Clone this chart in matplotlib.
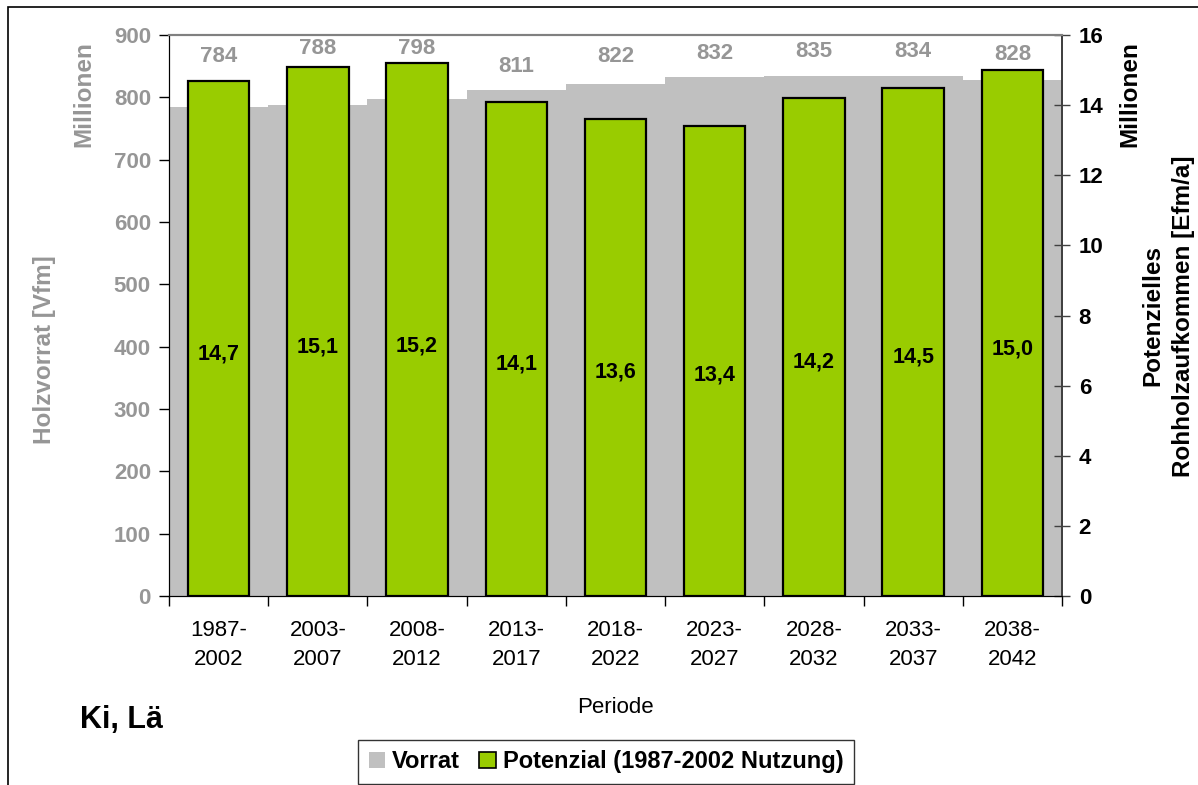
import matplotlib
matplotlib.use("Agg")
import matplotlib.pyplot as plt
import matplotlib.patches as mpatches
import numpy as np

plt.rcParams['font.family'] = ['Liberation Sans', 'DejaVu Sans']

perioden = ["1987-\n2002", "2003-\n2007", "2008-\n2012", "2013-\n2017", "2018-\n2022",
            "2023-\n2027", "2028-\n2032", "2033-\n2037", "2038-\n2042"]
vorrat = [784, 788, 798, 811, 822, 832, 835, 834, 828]          # Mio Vfm
potenzial = [14.7, 15.1, 15.2, 14.1, 13.6, 13.4, 14.2, 14.5, 15.0]  # Mio Efm/a
# heights of the Vorrat value labels as Excel placed them (left axis units)
vorrat_label_y = [865, 878, 878, 850, 865, 871, 874, 874, 868]

GRAY = '#C0C0C0'
LABEL_GRAY = '#969696'
GREEN = '#99CC00'

W, H = 1198, 785
fig = plt.figure(figsize=(W / 100, H / 100), dpi=100)
ax = fig.add_axes([169 / W, 1 - 596 / H, (1062 - 169) / W, (596 - 35) / H])
ax2 = ax.twinx()

x = np.arange(len(perioden))
ax.bar(x, vorrat, width=1.0, color=GRAY, linewidth=0, zorder=1)
ax2.bar(x, potenzial, width=0.62, color=GREEN, edgecolor='black', linewidth=1.6, zorder=2)

for xi, v, ly in zip(x, vorrat, vorrat_label_y):
    ax.text(xi, ly, str(v), ha='center', va='center', color=LABEL_GRAY,
            fontsize=16, fontweight='bold')
for xi, p in zip(x, potenzial):
    ax2.text(xi, p * 0.47, f"{p:.1f}".replace('.', ','), ha='center', va='center',
             color='black', fontsize=15.5, fontweight='bold')

ax.set_xlim(-0.5, len(perioden) - 0.5)
ax.set_ylim(0, 900)
ax2.set_ylim(0, 16)
ax.set_yticks(np.arange(0, 901, 100))
ax2.set_yticks(np.arange(0, 17, 2))

# ticks between categories, labels centered
ax.set_xticks(np.arange(-0.5, len(perioden), 1.0))
ax.set_xticklabels([])
ax.set_xticks(x, minor=True)
ax.set_xticklabels(perioden, minor=True, fontsize=16, linespacing=1.55)
ax.tick_params(axis='x', which='major', length=7, width=1, color='black', direction='out')
ax.tick_params(axis='x', which='minor', length=0, pad=17)

ax.tick_params(axis='y', length=7, width=1, direction='out', labelsize=16,
               labelcolor=LABEL_GRAY, pad=6)
for t in ax.get_yticklabels():
    t.set_fontweight('bold')
ax2.tick_params(axis='y', length=12, width=1, direction='inout', labelsize=16,
                labelcolor='black', pad=6, color='#404040')
for t in ax2.get_yticklabels():
    t.set_fontweight('bold')

for a in (ax, ax2):
    a.spines['top'].set_color('#808080')
    a.spines['top'].set_linewidth(1.5)
    a.spines['left'].set_color('black')
    a.spines['right'].set_color('#404040')
    a.spines['bottom'].set_color('black')
    a.spines['right'].set_linewidth(1.3)

ax.set_xlabel("Periode", fontsize=16, labelpad=19)

# axis titles
fig.text(45 / W, 1 - 350 / H, "Holzvorrat [Vfm]", rotation=90, ha='center', va='center',
         color=LABEL_GRAY, fontsize=17.5, fontweight='bold')
fig.text(84 / W, 1 - 94 / H, "Millionen", rotation=90, ha='center', va='center',
         color=LABEL_GRAY, fontsize=17.5, fontweight='bold')
fig.text(1130 / W, 1 - 94 / H, "Millionen", rotation=90, ha='center', va='center',
         color='black', fontsize=17.5, fontweight='bold')
fig.text(1168 / W, 1 - 316 / H, "Potenzielles\nRohholzaufkommen [Efm/a]", rotation=90,
         ha='center', va='center', multialignment='center', linespacing=1.45,
         color='black', fontsize=17.5, fontweight='bold')

fig.text(80 / W, 1 - 720 / H, "Ki, Lä", ha='left', va='center', fontsize=22, fontweight='bold')

handles = [mpatches.Patch(facecolor=GRAY, edgecolor='none', label='Vorrat'),
           mpatches.Patch(facecolor=GREEN, edgecolor='black', linewidth=1.2,
                          label='Potenzial (1987-2002 Nutzung)')]
leg = fig.legend(handles=handles, loc='lower left', bbox_to_anchor=(358 / W, 1 / H),
                 ncol=2, frameon=True, fancybox=False, edgecolor='black',
                 prop={'size': 17, 'weight': 'bold'}, handlelength=0.7, handleheight=0.7,
                 handletextpad=0.3, columnspacing=0.8, borderpad=0.45, borderaxespad=0)
leg.get_frame().set_linewidth(1.0)

# chart area frame (cut off at right and bottom)
fig.add_artist(mpatches.Rectangle((8 / W, -0.1), 1.2, 1 - 7 / H + 0.1,
                                  transform=fig.transFigure, fill=False,
                                  edgecolor='black', linewidth=1.2, clip_on=False))

fig.savefig("out.png", dpi=100)
